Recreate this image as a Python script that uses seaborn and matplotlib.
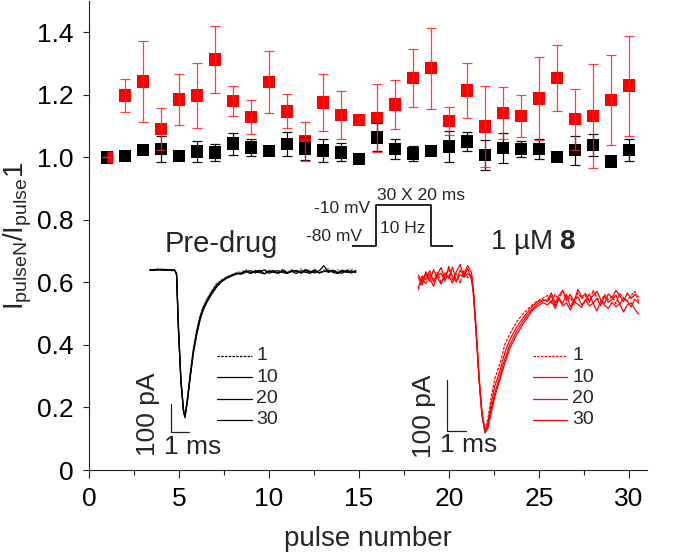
import matplotlib
matplotlib.use("Agg")
import matplotlib.pyplot as plt
import seaborn as sns
from matplotlib.lines import Line2D

# ---------------- data ----------------
pulse = list(range(1, 31))
drug_mean = [1.00, 1.198, 1.242, 1.090, 1.185, 1.198, 1.313, 1.180, 1.129, 1.241,
             1.147, 1.050, 1.176, 1.135, 1.120, 1.126, 1.169, 1.254, 1.285, 1.117,
             1.214, 1.099, 1.141, 1.132, 1.188, 1.253, 1.122, 1.132, 1.183, 1.229]
drug_err = [0.0, 0.054, 0.130, 0.067, 0.083, 0.104, 0.108, 0.048, 0.054, 0.098,
            0.054, 0.063, 0.092, 0.076, 0.010, 0.110, 0.077, 0.092, 0.130, 0.045,
            0.089, 0.129, 0.083, 0.068, 0.134, 0.105, 0.097, 0.167, 0.145, 0.160]
ctrl_mean = [1.000, 1.004, 1.024, 1.027, 1.004, 1.019, 1.015, 1.044, 1.032, 1.020,
             1.042, 1.029, 1.022, 1.016, 0.994, 1.064, 1.027, 1.013, 1.020, 1.035,
             1.051, 1.007, 1.030, 1.026, 1.027, 1.001, 1.023, 1.040, 0.986, 1.024]
ctrl_err = [0.0, 0.005, 0.010, 0.042, 0.010, 0.033, 0.028, 0.035, 0.028, 0.005,
            0.039, 0.037, 0.038, 0.029, 0.0, 0.045, 0.031, 0.024, 0.010, 0.050,
            0.030, 0.049, 0.049, 0.026, 0.032, 0.0, 0.046, 0.035, 0.0, 0.035]

x_ticks = [0, 5, 10, 15, 20, 25, 30]
y_ticks = [0, 0.2, 0.4, 0.6, 0.8, 1.0, 1.2, 1.4]
y_tick_labels = ["0", "0.2", "0.4", "0.6", "0.8", "1.0", "1.2", "1.4"]
trace_labels = ["1", "10", "20", "30"]

# pre-drug current traces (time in ms, current in pA)
t_ctrl = [0.0, 0.2, 0.4, 0.6, 0.8, 1.0, 1.2, 1.35,
          1.45, 1.56, 1.69, 1.83, 1.91, 2.04, 2.2, 2.37, 2.55, 2.73, 2.9, 3.1, 3.35,
          3.64, 3.9, 4.19, 4.5, 4.75,
          5.0, 5.25, 5.5, 5.75, 6.0, 6.25, 6.5, 6.75, 7.0, 7.25, 7.5, 7.75, 8.0,
          8.25, 8.5, 8.75, 9.0, 9.25, 9.5, 9.75, 10.0, 10.25, 10.5, 10.75, 11.0, 11.25]
ctrl_p1 = [2, 5, 3, 6, 4, 2, 5, 1,
           -8, -205, -385, -492, -518, -455, -360, -275, -210, -160, -128, -100, -72,
           -44, -32, -20, -12, -6,
           -3, 4, -6, 2, -7, 5, -4, 3, -6, 6, -3, 4, -5, 7, -2, -4, 5, -6, 3, 8, -3, 4,
           -5, 3, 6, 0]
ctrl_p10 = [3, 1, 4, 2, 5, 3, 0, 2,
            -12, -215, -395, -500, -522, -462, -370, -283, -218, -166, -133, -106, -78,
            -50, -36, -24, -15, -9,
            -8, 0, -10, -2, 1, -11, -3, 0, -9, 2, -7, -1, 1, -9, 0, -6, 3, -8, -1, -5,
            2, -6, -9, 1, -5, -1]
ctrl_p20 = [4, 2, 6, 3, 1, 4, 3, 0,
            -10, -210, -390, -497, -520, -465, -375, -290, -224, -172, -138, -110, -82,
            -54, -38, -26, -16, -10,
            -11, -3, 0, -8, -2, 2, -9, -4, 0, -6, -10, 1, -3, -7, 4, -2, -8, 0, 18, -5,
            -1, -7, 2, -4, -8, -1]
ctrl_p30 = [1, 4, 2, 5, 3, 1, 4, 2,
            -14, -220, -398, -503, -525, -470, -380, -296, -230, -178, -142, -114, -86,
            -58, -40, -27, -18, -11,
            -12, -4, -9, -1, -7, -11, 0, -6, -9, -2, -8, -3, -10, 0, -6, -9, -2, -8, -3,
            1, -6, -10, -2, -6, 0, -7]

# 1 uM 8 current traces
t_drug = [0.0, 0.2, 0.4, 0.6, 0.8, 1.0, 1.2, 1.4, 1.6, 1.8, 2.0, 2.2, 2.4, 2.6, 2.8,
          2.9, 3.04, 3.2, 3.35, 3.51, 3.67, 3.83, 4.03, 4.3, 4.56, 4.82, 5.19, 5.5,
          5.8, 6.03, 6.3, 6.56,
          6.8, 7.0, 7.2, 7.4, 7.6, 7.8, 8.0, 8.2, 8.4, 8.6, 8.8, 9.0, 9.2, 9.4, 9.6,
          9.8, 10.0, 10.2, 10.4, 10.6, 10.8, 11.0, 11.2, 11.4, 11.6]
drug_p1 = [-20, 5, -8, 10, 2, 15, -5, 8, 20, 0, 12, -6, 18, 4, 10,
           -30, -95, -190, -258, -290, -268, -228, -190, -162, -124, -104, -80, -66,
           -55, -47, -40, -35,
           -30, -45, -28, -38, -22, -40, -33, -48, -25, -36, -30, -44, -20, -35, -42,
           -28, -38, -32, -46, -26, -34, -40, -30, -22, -42]
drug_p10 = [5, -10, 12, -3, 20, 6, -8, 14, 3, 25, -2, 10, 7, 22, 0,
            -25, -100, -195, -262, -294, -275, -240, -205, -175, -140, -115, -90, -74,
            -60, -50, -42, -38,
            -42, -30, -50, -35, -45, -28, -52, -38, -33, -48, -40, -27, -45, -36, -50,
            -31, -43, -38, -29, -47, -35, -41, -52, -37, -45]
drug_p20 = [-15, 8, 0, 18, -4, 11, 24, 2, 9, -6, 16, 30, 5, 12, 8,
            -20, -92, -188, -255, -292, -282, -250, -218, -185, -152, -125, -98, -80,
            -65, -55, -46, -40,
            -38, -25, -44, -30, -20, -36, -28, -42, -18, -33, -26, -40, -30, -22, -38,
            -45, -27, -34, -20, -30, -42, -25, -36, -28, -33]
drug_p30 = [10, -5, 16, 4, -12, 9, 13, -2, 26, 7, -4, 19, 10, 28, 14,
            -22, -98, -192, -260, -296, -286, -258, -226, -192, -160, -132, -105, -86,
            -70, -58, -50, -44,
            -48, -40, -55, -36, -50, -44, -58, -42, -47, -53, -38, -50, -45, -60, -41,
            -49, -55, -43, -52, -46, -62, -48, -44, -57, -66]

# stimulation protocol schematic (ms, mV)
prot_t = [0, 9, 9, 29, 29, 37]
prot_v = [-80, -80, -10, -10, -80, -80]

# ---------------- style ----------------
sns.set_theme(style="ticks")
plt.rcParams["font.family"] = ["Liberation Sans", "DejaVu Sans"]
plt.rcParams["mathtext.fontset"] = "custom"
plt.rcParams["mathtext.rm"] = "Liberation Sans"
plt.rcParams["mathtext.it"] = "Liberation Sans:italic"
plt.rcParams["mathtext.bf"] = "Liberation Sans:bold"

W, H = 675, 557
fig = plt.figure(figsize=(W / 100, H / 100), dpi=100)


def rect(left, top, width, height):
    return [left / W, 1 - (top + height) / H, width / W, height / H]


def fx(x):
    return x / W


def fy(y):
    return 1 - y / H


AX_L, AX_R, AX_T, AX_B = 89, 647, 1, 470
ax = fig.add_axes(rect(AX_L, AX_T, AX_R - AX_L, AX_B - AX_T))

RED = "#ff0000"
ax.errorbar(pulse, drug_mean, yerr=drug_err, fmt="none", ecolor="#ff2020",
            elinewidth=0.9, capsize=3.6, capthick=0.9, zorder=4, alpha=0.85)
ax.errorbar(pulse, ctrl_mean, yerr=ctrl_err, fmt="none", ecolor="#111111",
            elinewidth=0.9, capsize=3.6, capthick=0.9, zorder=2.5)
sns.scatterplot(x=pulse, y=drug_mean, marker="s", s=81, color=RED,
                edgecolor="none", linewidth=0, ax=ax, zorder=2)
sns.scatterplot(x=pulse, y=ctrl_mean, marker="s", s=81, color="black",
                edgecolor="none", linewidth=0, ax=ax, zorder=3)
# first pulse: half red, half black
ax.plot(pulse[:1], drug_mean[:1], marker="s", ms=9, mec="none", mfc=RED,
        fillstyle="right", markerfacecoloralt="none", linestyle="none", zorder=3.5)

ax.set_xlim(0, 31)
ax.set_ylim(0, 1.5)
ax.set_xticks(x_ticks)
ax.set_xticklabels([str(v) for v in x_ticks])
ax.set_xticks([2.5, 7.5, 12.5, 17.5, 22.5, 27.5], minor=True)
ax.set_yticks(y_ticks)
ax.set_yticklabels(y_tick_labels)
ax.tick_params(axis="both", which="major", labelsize=19, color="#222222",
               width=0.8, labelcolor="black")
ax.tick_params(axis="x", which="major", length=6, pad=6)
ax.tick_params(axis="x", which="minor", length=3.5, width=0.8, color="#222222")
ax.tick_params(axis="y", which="major", length=4, pad=7)
for s in ["top", "right"]:
    ax.spines[s].set_visible(False)
for s in ["left", "bottom"]:
    ax.spines[s].set_color("#222222")
    ax.spines[s].set_linewidth(0.8)
ax.set_xlabel("pulse number", fontsize=20, labelpad=11)
ax.set_ylabel(r"I$_{\rm pulseN}$/I$_{\rm pulse}$1", fontsize=20, labelpad=2)
ax.patch.set_alpha(0)

# ---------------- pre-drug inset ----------------
bx_px, by_px = 18.3, 0.28     # px per ms, px per pA
b_t0x, b_i0y = 150, 270.7     # pixel of t=0, I=0
bxl, bxr, byb, byt = -0.8, 11.6, -620, 60
axb = fig.add_axes(rect(b_t0x + bxl * bx_px, b_i0y - byt * by_px,
                        (bxr - bxl) * bx_px, (byt - byb) * by_px))
axb.set_xlim(bxl, bxr)
axb.set_ylim(byb, byt)
axb.axis("off")
sns.lineplot(x=t_ctrl, y=ctrl_p1, ax=axb, color="#8a8a8a", lw=0.9,
             linestyle=(0, (2, 1)), sort=False, estimator=None)
for tr in (ctrl_p10, ctrl_p20, ctrl_p30):
    sns.lineplot(x=t_ctrl, y=tr, ax=axb, color="black", lw=0.9,
                 sort=False, estimator=None)
axb.plot([1.13, 1.13, 2.13], [-476, -576, -576], color="#222222", lw=0.9,
         clip_on=False)
axb.text(-0.11, -512, "100 pA", rotation=90, ha="center", va="center",
         fontsize=19)
axb.text(2.31, -630, "1 ms", ha="center", va="center", fontsize=19)
axb.text(3.9, 97, "Pre-drug", ha="center", va="center", fontsize=21)

# ---------------- drug inset ----------------
rx_px, ry_px = 19.0, 0.517
r_t0x, r_i0y = 418.3, 280
rxl, rxr, ryb, ryt = -2, 12.0, -420, 60
axr = fig.add_axes(rect(r_t0x + rxl * rx_px, r_i0y - ryt * ry_px,
                        (rxr - rxl) * rx_px, (ryt - ryb) * ry_px))
axr.set_xlim(rxl, rxr)
axr.set_ylim(ryb, ryt)
axr.axis("off")
sns.lineplot(x=t_drug, y=drug_p1, ax=axr, color=RED, lw=0.9,
             linestyle=(0, (2.5, 1)), sort=False, estimator=None)
for tr in (drug_p10, drug_p20, drug_p30):
    sns.lineplot(x=t_drug, y=tr, ax=axr, color=RED, lw=0.9,
                 sort=False, estimator=None)
axr.plot([1.49, 1.49, 2.49], [-193, -293, -293], color="#222222", lw=0.9,
         clip_on=False)
axr.text(0.3, -263, "100 pA", rotation=90, ha="center", va="center",
         fontsize=19)
axr.text(2.63, -319, "1 ms", ha="center", va="center", fontsize=19)

fig.text(fx(490), fy(249), r"1 µM $\mathbf{8}$", ha="left", va="baseline",
         fontsize=20)

# ---------------- legends (keys) ----------------
rows = [356, 377, 398.7, 420]
for (x0, x1, xt, col) in [(216.7, 251.7, 256.0, "black"),
                          (532.7, 566.7, 572.0, RED)]:
    for i, (yy, lab) in enumerate(zip(rows, trace_labels)):
        ls = (0, (2, 1)) if i == 0 else "-"
        fig.add_artist(Line2D([fx(x0), fx(x1)], [fy(yy), fy(yy)], color=col,
                              lw=0.9, linestyle=ls))
        fig.text(fx(xt), fy(yy), lab, ha="left", va="center", fontsize=14)

# ---------------- protocol schematic ----------------
px_ms, px_mv = 2.75, 0.586
pxl, pxr, pyb, pyt = 0, 37, -85, -5
axp = fig.add_axes(rect(351.7, 205 - (pyt - (-10)) * px_mv,
                        (pxr - pxl) * px_ms, (pyt - pyb) * px_mv))
axp.set_xlim(pxl, pxr)
axp.set_ylim(pyb, pyt)
axp.axis("off")
sns.lineplot(x=prot_t, y=prot_v, ax=axp, color="black", lw=1.2, sort=False,
             estimator=None)
fig.text(fx(370), fy(208.3), "-10 mV", ha="right", va="center", fontsize=12.5)
fig.text(fx(361.7), fy(236.7), "-80 mV", ha="right", va="center", fontsize=12.5)
fig.text(fx(376.7), fy(195), "30 X 20 ms", ha="left", va="center", fontsize=12.5)
fig.text(fx(380), fy(228.3), "10 Hz", ha="left", va="center", fontsize=12.5)

fig.savefig("out.png", dpi=100)
